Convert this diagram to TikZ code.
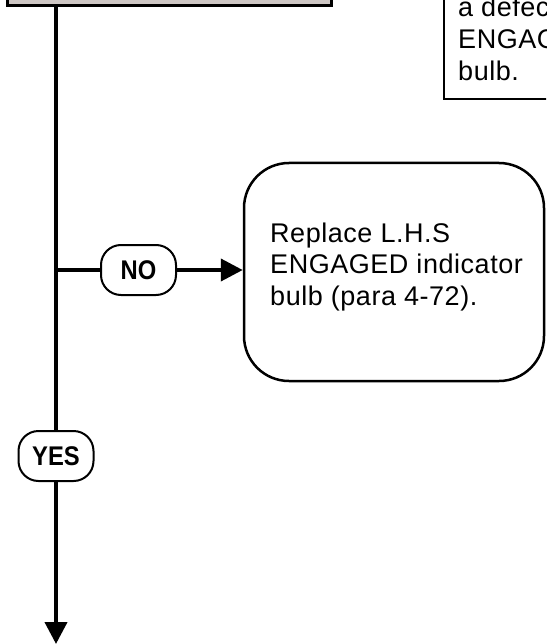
\documentclass[tikz,border=0pt]{standalone}
\usepackage{fontspec}
\setmainfont{Liberation Sans}
\usetikzlibrary{arrows.meta}
\definecolor{boxgray}{RGB}{206,199,196}
\newcommand{\lbltext}[1]{\scalebox{0.88}[1]{#1}}
\begin{document}
\begin{tikzpicture}[x=1pt,y=-1pt,
  conn/.style={line width=4pt},
  arr/.style={conn,-{Triangle[length=22pt,width=22pt]}},
  lbl/.style={draw,fill=white,line width=2pt,rounded corners=20pt,minimum width=75pt,minimum height=50pt,inner sep=0pt,font=\fontsize{27}{30}\selectfont\bfseries},
  bigbox/.style={draw,line width=2.5pt,rounded corners=45pt,minimum width=300pt,minimum height=218pt,inner sep=0pt},
  notebox/.style={draw,line width=2.5pt,minimum width=200pt,minimum height=250pt,inner sep=0pt},
  topbox/.style={draw,fill=boxgray,line width=3pt,minimum width=324pt,minimum height=80pt,inner sep=0pt},
  txt/.style={inner sep=0pt,font=\fontsize{27}{31.6}\selectfont\addfontfeature{LetterSpace=2},anchor=base west}
]
\useasboundingbox (0,0) rectangle (546,644);
\clip (0,0) rectangle (546,644);
\node[topbox] (top) at (169,-34) {};
\node[notebox] (note) at (544,-26) {};
\node[txt] (notetext) at (458,17) {\begin{tabular}[t]{@{}l@{}}a defective\\ENGAGED\\bulb.\end{tabular}};
\node[bigbox] (fix) at (394,272) {};
\node[txt] (fixtext) at (270,242) {\begin{tabular}[t]{@{}l@{}}Replace L.H.S\\ENGAGED indicator\\bulb (para 4-72).\end{tabular}};
\node[lbl] (no) at (138.5,270) {\lbltext{NO}};
\node[lbl] (yes) at (56,456) {\lbltext{YES}};
\coordinate (end) at (56,644);
\draw[conn] (yes |- top.south) -- (yes.north);
\draw[arr] (yes.south) -- (end);
\draw[conn] (yes |- no) -- (no.west);
\draw[arr] (no.east) -- (fix.west |- no);
\end{tikzpicture}
\end{document}
